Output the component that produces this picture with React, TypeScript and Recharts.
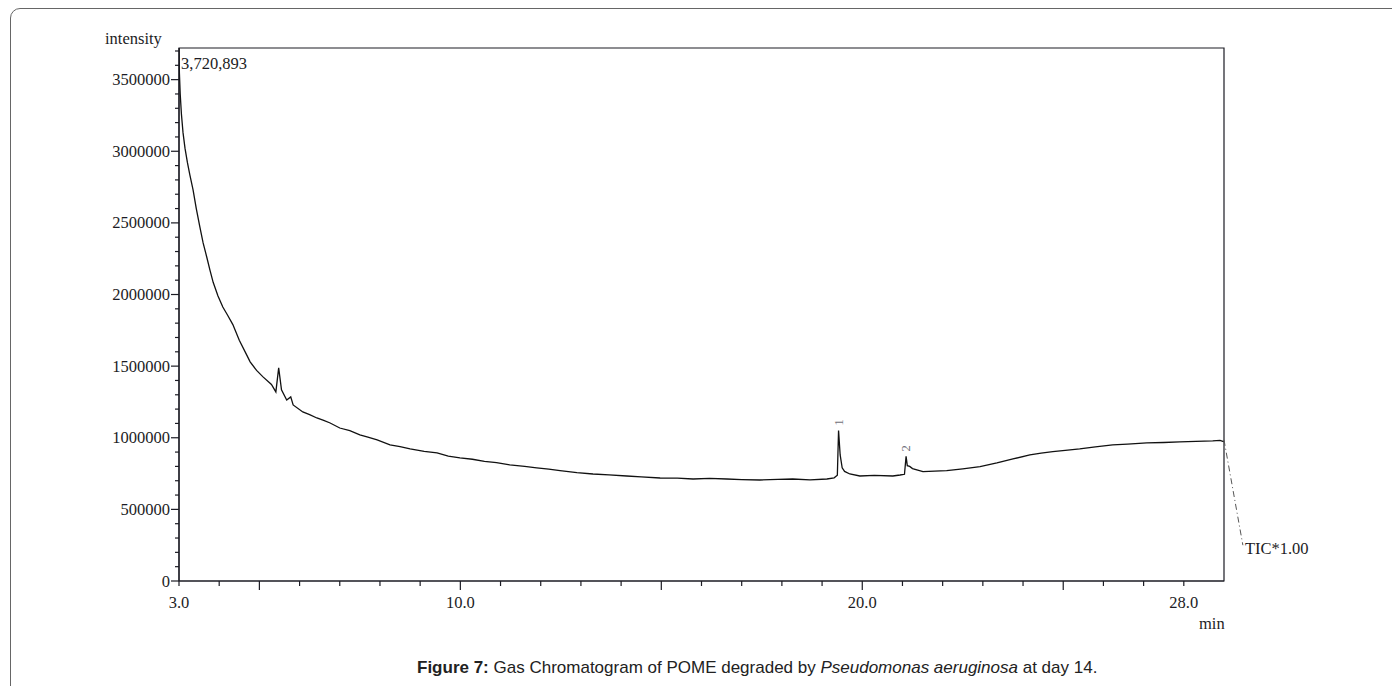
import React from 'react';
import { LineChart, Line, XAxis, YAxis, ReferenceArea, ReferenceLine, ReferenceDot } from 'recharts';

// retention time (min) and TIC intensity
const times = [
  3.0, 3.01, 3.03, 3.06, 3.1, 3.15, 3.21, 3.27, 3.35, 3.43, 3.52, 3.6, 3.69, 3.77, 3.85, 3.97, 4.09, 4.21, 4.34,
  4.5, 4.69, 4.77, 4.93, 5.09, 5.3, 5.41, 5.48, 5.55, 5.68, 5.78, 5.84, 6.08, 6.25, 6.43, 6.6, 6.76, 7.0, 7.25,
  7.5, 7.7, 7.93, 8.25, 8.5, 8.75, 9.1, 9.42, 9.7, 9.99, 10.3, 10.6, 10.9, 11.23, 11.6, 11.9, 12.2, 12.48, 12.9,
  13.3, 13.7, 14.14, 14.5, 14.97, 15.4, 15.79, 16.2, 16.63, 17.0, 17.45, 17.9, 18.27, 18.7, 19.12, 19.3, 19.38,
  19.41, 19.45, 19.5, 19.56, 19.69, 19.94, 20.3, 20.76, 20.94, 21.05, 21.09, 21.12, 21.18, 21.25, 21.51, 21.8,
  22.1, 22.5, 22.93, 23.35, 23.75, 24.17, 24.45, 24.74, 25.05, 25.41, 25.8, 26.23, 26.6, 27.08, 27.5, 27.9,
  28.3, 28.72, 28.9, 28.99,
];
const intensity = [
  3720893, 3547000, 3400000, 3260000, 3130000, 3020000, 2920000, 2835000, 2730000, 2600000, 2470000, 2360000,
  2262000, 2170000, 2085000, 1990000, 1913000, 1855000, 1790000, 1680000, 1575000, 1530000, 1470000, 1425000,
  1372000, 1320000, 1488000, 1334000, 1264000, 1285000, 1229000, 1180000, 1162000, 1138000, 1121000, 1103000,
  1068000, 1049000, 1020000, 1004000, 985000, 950000, 938000, 922000, 905000, 894000, 872000, 859000, 850000,
  835000, 826000, 810000, 800000, 790000, 781000, 770000, 756000, 747000, 741000, 733000, 727000, 719000,
  718000, 712000, 716000, 712000, 708000, 705000, 709000, 712000, 706000, 712000, 720000, 738000, 1050000,
  880000, 790000, 765000, 747000, 733000, 737000, 733000, 740000, 745000, 870000, 805000, 800000, 785000,
  763000, 767000, 770000, 783000, 798000, 824000, 852000, 880000, 893000, 903000, 912000, 922000, 937000,
  950000, 956000, 964000, 967000, 971000, 975000, 978000, 982000, 973000,
];

const xTicks = Array.from({ length: 26 }, (_, i) => 3 + i);
const xLabels = [3, 10, 20, 28];
const yTicks = Array.from({ length: 38 }, (_, i) => i * 100000);
const yMax = 3720893;

const peaks = [
  { t: 19.41, v: 1050000, label: '1' },
  { t: 21.09, v: 870000, label: '2' },
];

const data = times.map((t, i) => ({ t, v: intensity[i] }));

const serif = '"Liberation Serif", "Times New Roman", serif';
const ink = '#1c1c24';

const YTick = (props: any) => {
  const { x, y, payload } = props;
  const major = payload.value % 500000 === 0;
  return (
    <g>
      <line x1={x - (major ? 8 : 4)} x2={x} y1={y} y2={y} stroke={ink} strokeWidth={1.2} />
      {major && (
        <text x={x - 9} y={y} textAnchor="end" dominantBaseline="central" fontSize={16.5} fontFamily={serif} fill={ink}>
          {payload.value}
        </text>
      )}
    </g>
  );
};

const XTick = (props: any) => {
  const { x, y, payload } = props;
  const major = payload.value % 5 === 0;
  return (
    <g>
      <line x1={x} x2={x} y1={y} y2={y + (major ? 9 : 5)} stroke={ink} strokeWidth={1.2} />
      {xLabels.includes(payload.value) && (
        <text x={x} y={y + 21} textAnchor="middle" dominantBaseline="central" fontSize={16.5} fontFamily={serif} fill={ink}>
          {payload.value.toFixed(1)}
        </text>
      )}
    </g>
  );
};

const PeakLabel = (text: string) => (props: any) => (
  <text
    x={props.cx}
    y={props.cy - 5}
    transform={`rotate(-90 ${props.cx} ${props.cy - 5})`}
    textAnchor="start"
    dominantBaseline="central"
    fontSize={12.5}
    fontFamily={serif}
    fill="#707078"
  >
    {text}
  </text>
);

const TextAt = (text: string, dx: number, dy: number) => (props: any) => (
  <text x={props.cx + dx} y={props.cy + dy} dominantBaseline="central" fontSize={16.5} fontFamily={serif} fill={ink}>
    {text}
  </text>
);

export default function App() {
  return (
    <div style={{ position: 'relative', width: 1392, height: 678, overflow: 'hidden', background: '#fff' }}>
      <div
        style={{
          position: 'absolute',
          left: 2,
          top: 0,
          width: 1500,
          height: 800,
          border: '1.5px solid #666',
          borderTopLeftRadius: 10,
        }}
      />
      <div style={{ position: 'absolute', left: 0, top: 0 }}>
        <LineChart width={1392} height={640} data={data} margin={{ top: 40, right: 176, bottom: 37, left: 0 }}>
          <XAxis
            dataKey="t"
            type="number"
            domain={[3, 29]}
            ticks={xTicks}
            interval={0}
            tick={<XTick />}
            tickLine={false}
            tickSize={0}
            tickMargin={0}
            height={30}
            axisLine={{ stroke: ink, strokeWidth: 1.2 }}
            allowDataOverflow
          />
          <YAxis
            type="number"
            domain={[0, yMax]}
            ticks={yTicks}
            interval={0}
            tick={<YTick />}
            tickLine={false}
            tickSize={0}
            tickMargin={0}
            width={171}
            axisLine={{ stroke: ink, strokeWidth: 1.2 }}
            allowDataOverflow
          />
          <ReferenceArea x1={3} x2={29} y1={0} y2={yMax} fill="none" stroke={ink} strokeWidth={1.2} />
          <Line
            type="linear"
            dataKey="v"
            stroke="#111"
            strokeWidth={1.3}
            dot={false}
            isAnimationActive={false}
          />
          <ReferenceLine
            segment={[{ x: 29, y: 985000 }, { x: 29.47, y: 250000 }]}
            stroke="#555"
            strokeDasharray="6 3 1 3"
            ifOverflow="visible"
          />
          {peaks.map((p) => (
            <ReferenceDot key={p.label} x={p.t} y={p.v} r={0} ifOverflow="visible" shape={PeakLabel(p.label)} />
          ))}
          <ReferenceDot x={3} y={yMax} r={0} ifOverflow="visible" shape={TextAt('3,720,893', 2, 15)} />
          <ReferenceDot x={29.47} y={230000} r={0} ifOverflow="visible" shape={TextAt('TIC*1.00', 2, 0)} />
        </LineChart>
      </div>
      <div
        style={{
          position: 'absolute',
          left: 97,
          top: 22,
          fontFamily: serif,
          fontSize: 16.5,
          color: ink,
          lineHeight: '18px',
        }}
      >
        intensity
      </div>
      <div
        style={{
          position: 'absolute',
          left: 1191,
          top: 607,
          fontFamily: serif,
          fontSize: 16.5,
          color: ink,
          lineHeight: '18px',
        }}
      >
        min
      </div>
      <div
        style={{
          position: 'absolute',
          left: 409,
          top: 650,
          fontFamily: '"Liberation Sans", Arial, sans-serif',
          fontSize: 17,
          color: '#222',
          lineHeight: '20px',
          whiteSpace: 'nowrap',
        }}
      >
        <b>Figure 7:</b> Gas Chromatogram of POME degraded by <i>Pseudomonas aeruginosa</i> at day 14.
      </div>
    </div>
  );
}
